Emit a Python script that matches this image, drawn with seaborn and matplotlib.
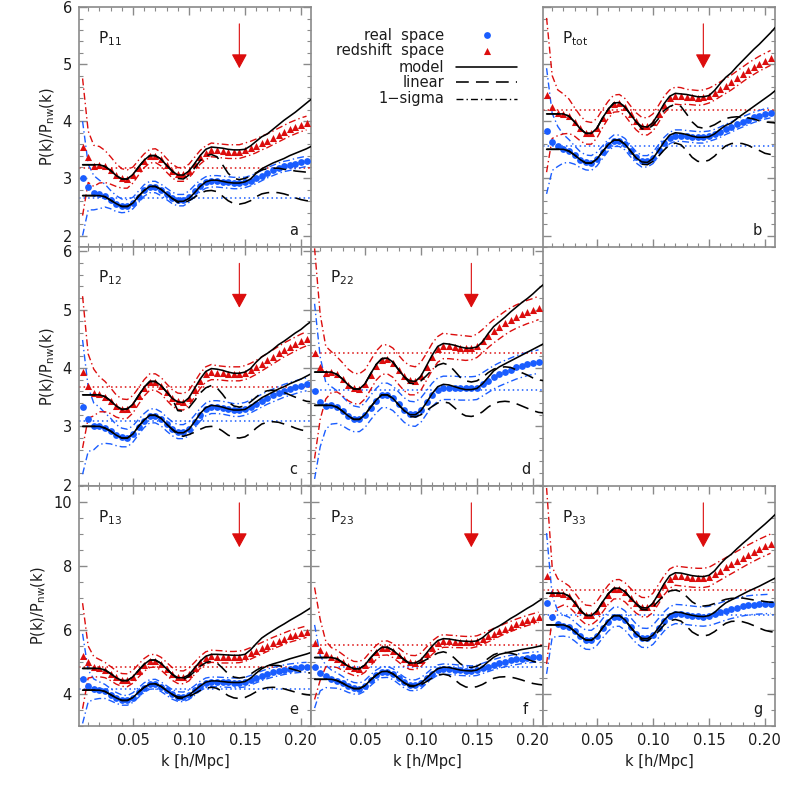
import numpy as np
import matplotlib
matplotlib.use("Agg")
import matplotlib.pyplot as plt
import matplotlib.transforms as mtransforms
from matplotlib.ticker import MultipleLocator, FormatStrFormatter
import seaborn as sns

# ---------------- data ----------------
k_dat = [0.005, 0.010, 0.015, 0.020, 0.025, 0.030, 0.035, 0.040, 0.045, 0.050,
         0.055, 0.060, 0.065, 0.070, 0.075, 0.080, 0.085, 0.090, 0.095, 0.100,
         0.105, 0.110, 0.115, 0.120, 0.125, 0.130, 0.135, 0.140, 0.145, 0.150,
         0.155, 0.160, 0.165, 0.170, 0.175, 0.180, 0.185, 0.190, 0.195, 0.200,
         0.205]
k_line = [0.005, 0.010, 0.015, 0.020, 0.025, 0.030, 0.035, 0.040, 0.045, 0.050,
          0.055, 0.060, 0.065, 0.070, 0.075, 0.080, 0.085, 0.090, 0.095, 0.100,
          0.105, 0.110, 0.115, 0.120, 0.125, 0.130, 0.135, 0.140, 0.145, 0.150,
          0.155, 0.160, 0.165, 0.170, 0.175, 0.180, 0.185, 0.190, 0.195, 0.200,
          0.205, 0.210]
k_arrow = 0.145

# ---- panel a : P11
a_real_dat = [3.00, 2.85, 2.75, 2.72, 2.70, 2.63, 2.56, 2.52, 2.52, 2.57,
              2.68, 2.79, 2.85, 2.85, 2.80, 2.73, 2.66, 2.62, 2.62, 2.68,
              2.78, 2.87, 2.93, 2.95, 2.95, 2.94, 2.93, 2.92, 2.92, 2.93,
              2.96, 3.00, 3.05, 3.10, 3.14, 3.18, 3.21, 3.23, 3.26, 3.28,
              3.30]
a_real_err = [1.00, 0.40, 0.30, 0.25, 0.20, 0.16, 0.14, 0.12, 0.11, 0.10,
              0.10, 0.10, 0.10, 0.10, 0.10, 0.10, 0.10, 0.10, 0.10, 0.10,
              0.10, 0.10, 0.10, 0.10, 0.10, 0.10, 0.10, 0.10, 0.10, 0.09,
              0.09, 0.09, 0.09, 0.09, 0.09, 0.09, 0.09, 0.09, 0.09, 0.09,
              0.09]
a_red_dat = [3.55, 3.38, 3.22, 3.24, 3.21, 3.14, 3.06, 3.00, 2.99, 3.06,
             3.19, 3.31, 3.39, 3.40, 3.34, 3.23, 3.13, 3.07, 3.07, 3.13,
             3.25, 3.37, 3.45, 3.50, 3.49, 3.48, 3.47, 3.47, 3.47, 3.50,
             3.53, 3.57, 3.62, 3.66, 3.71, 3.76, 3.81, 3.86, 3.90, 3.94,
             3.97]
a_red_err = [1.20, 0.45, 0.36, 0.32, 0.28, 0.24, 0.20, 0.17, 0.16, 0.14,
             0.13, 0.12, 0.12, 0.12, 0.12, 0.12, 0.12, 0.12, 0.12, 0.12,
             0.12, 0.12, 0.12, 0.12, 0.12, 0.12, 0.12, 0.12, 0.12, 0.12,
             0.12, 0.12, 0.12, 0.12, 0.12, 0.12, 0.12, 0.12, 0.12, 0.12,
             0.12]
a_real_mod = [2.70, 2.70, 2.70, 2.70, 2.68, 2.62, 2.56, 2.51, 2.51, 2.57,
              2.69, 2.79, 2.86, 2.86, 2.81, 2.73, 2.65, 2.60, 2.60, 2.65,
              2.75, 2.86, 2.94, 2.97, 2.97, 2.95, 2.93, 2.92, 2.92, 2.94,
              2.99, 3.09, 3.17, 3.22, 3.27, 3.31, 3.35, 3.40, 3.44, 3.48,
              3.52, 3.57]
a_red_mod = [3.24, 3.24, 3.24, 3.24, 3.21, 3.14, 3.05, 2.99, 2.99, 3.07,
             3.20, 3.32, 3.40, 3.40, 3.34, 3.23, 3.13, 3.06, 3.06, 3.13,
             3.26, 3.40, 3.51, 3.55, 3.54, 3.53, 3.51, 3.50, 3.50, 3.51,
             3.57, 3.65, 3.73, 3.78, 3.86, 3.94, 4.02, 4.09, 4.16, 4.24,
             4.32, 4.40]
a_real_lin = [2.58, 2.57, 2.61, 2.67, 2.74, 2.78, 2.79, 2.77, 2.69, 2.61,
              2.56, 2.55, 2.57, 2.61, 2.68, 2.73, 2.75, 2.76, 2.75, 2.73,
              2.70, 2.66, 2.63, 2.61, 2.60]
a_red_lin = [3.00, 2.99, 3.06, 3.18, 3.31, 3.40, 3.42, 3.38, 3.24, 3.09,
             3.00, 2.98, 3.00, 3.04, 3.10, 3.15, 3.17, 3.18, 3.18, 3.16,
             3.15, 3.13, 3.12, 3.11, 3.10]

# ---- panel b : Ptot
b_real_dat = [3.83, 3.64, 3.56, 3.52, 3.48, 3.41, 3.33, 3.28, 3.27, 3.34,
              3.46, 3.58, 3.66, 3.66, 3.60, 3.48, 3.37, 3.30, 3.30, 3.36,
              3.49, 3.62, 3.71, 3.75, 3.75, 3.74, 3.73, 3.72, 3.72, 3.74,
              3.77, 3.81, 3.86, 3.90, 3.95, 3.99, 4.03, 4.07, 4.10, 4.13,
              4.15]
b_real_err = [1.10, 0.50, 0.35, 0.25, 0.20, 0.16, 0.14, 0.13, 0.13, 0.12,
              0.11, 0.10, 0.10, 0.10, 0.10, 0.10, 0.10, 0.10, 0.10, 0.10,
              0.10, 0.10, 0.10, 0.10, 0.10, 0.10, 0.10, 0.10, 0.10, 0.09,
              0.09, 0.09, 0.09, 0.09, 0.09, 0.09, 0.09, 0.09, 0.09, 0.09,
              0.09]
b_red_dat = [4.46, 4.25, 4.15, 4.13, 4.09, 3.99, 3.88, 3.80, 3.79, 3.88,
             4.05, 4.20, 4.31, 4.32, 4.25, 4.12, 4.00, 3.92, 3.91, 3.98,
             4.13, 4.29, 4.40, 4.45, 4.44, 4.43, 4.42, 4.41, 4.42, 4.45,
             4.50, 4.56, 4.62, 4.68, 4.75, 4.82, 4.89, 4.95, 5.01, 5.06,
             5.11]
b_red_err = [1.35, 0.55, 0.40, 0.35, 0.30, 0.25, 0.22, 0.20, 0.19, 0.17,
             0.16, 0.15, 0.15, 0.15, 0.15, 0.15, 0.15, 0.15, 0.15, 0.15,
             0.15, 0.15, 0.15, 0.15, 0.15, 0.13, 0.13, 0.13, 0.13, 0.13,
             0.13, 0.13, 0.13, 0.13, 0.13, 0.13, 0.13, 0.13, 0.13, 0.13,
             0.13]
b_real_mod = [3.51, 3.51, 3.51, 3.51, 3.48, 3.41, 3.33, 3.27, 3.27, 3.34,
              3.47, 3.59, 3.67, 3.67, 3.60, 3.48, 3.36, 3.29, 3.28, 3.35,
              3.49, 3.64, 3.76, 3.80, 3.79, 3.77, 3.74, 3.72, 3.72, 3.73,
              3.78, 3.86, 3.93, 3.97, 4.05, 4.12, 4.19, 4.26, 4.33, 4.40,
              4.47, 4.55]
b_red_mod = [4.13, 4.13, 4.13, 4.13, 4.09, 3.99, 3.87, 3.79, 3.79, 3.88,
             4.06, 4.21, 4.32, 4.33, 4.25, 4.12, 3.99, 3.91, 3.90, 3.98,
             4.14, 4.31, 4.44, 4.49, 4.48, 4.47, 4.45, 4.43, 4.43, 4.45,
             4.54, 4.66, 4.77, 4.85, 4.96, 5.06, 5.16, 5.26, 5.35, 5.45,
             5.55, 5.66]
b_real_lin = [3.25, 3.24, 3.30, 3.39, 3.50, 3.59, 3.62, 3.59, 3.49, 3.37,
              3.30, 3.29, 3.32, 3.39, 3.49, 3.57, 3.61, 3.62, 3.61, 3.58,
              3.53, 3.49, 3.44, 3.42, 3.40]
b_red_lin = [3.87, 3.86, 3.93, 4.05, 4.19, 4.26, 4.30, 4.26, 4.13, 3.99,
             3.90, 3.88, 3.90, 3.94, 4.00, 4.05, 4.07, 4.08, 4.07, 4.06,
             4.04, 4.01, 3.99, 3.98, 3.97]

# ---- panel c : P12
c_real_dat = [3.33, 3.12, 3.00, 3.01, 2.97, 2.92, 2.85, 2.81, 2.80, 2.87,
              2.99, 3.10, 3.18, 3.18, 3.13, 3.04, 2.96, 2.91, 2.91, 2.96,
              3.08, 3.20, 3.29, 3.33, 3.33, 3.32, 3.30, 3.28, 3.28, 3.30,
              3.34, 3.39, 3.44, 3.49, 3.53, 3.57, 3.61, 3.64, 3.67, 3.70,
              3.72]
c_real_err = [1.15, 0.55, 0.40, 0.32, 0.26, 0.22, 0.18, 0.16, 0.15, 0.14,
              0.13, 0.12, 0.12, 0.12, 0.12, 0.12, 0.12, 0.12, 0.12, 0.12,
              0.11, 0.11, 0.11, 0.11, 0.11, 0.11, 0.11, 0.11, 0.11, 0.11,
              0.11, 0.11, 0.11, 0.11, 0.11, 0.11, 0.11, 0.11, 0.11, 0.11,
              0.11]
c_red_dat = [3.93, 3.69, 3.58, 3.55, 3.51, 3.44, 3.35, 3.30, 3.30, 3.38,
             3.52, 3.66, 3.76, 3.76, 3.70, 3.59, 3.49, 3.43, 3.42, 3.49,
             3.63, 3.78, 3.89, 3.93, 3.92, 3.91, 3.90, 3.90, 3.90, 3.92,
             3.96, 4.01, 4.07, 4.13, 4.19, 4.25, 4.31, 4.36, 4.41, 4.46,
             4.50]
c_red_err = [1.30, 0.55, 0.40, 0.30, 0.26, 0.22, 0.19, 0.17, 0.16, 0.15,
             0.14, 0.14, 0.14, 0.14, 0.14, 0.14, 0.14, 0.14, 0.14, 0.13,
             0.13, 0.13, 0.13, 0.13, 0.12, 0.12, 0.12, 0.12, 0.12, 0.12,
             0.12, 0.12, 0.12, 0.12, 0.12, 0.12, 0.12, 0.12, 0.12, 0.12,
             0.12]
c_real_mod = [3.00, 3.00, 3.00, 3.00, 2.97, 2.92, 2.85, 2.80, 2.80, 2.87,
              3.00, 3.11, 3.19, 3.19, 3.14, 3.04, 2.95, 2.89, 2.89, 2.95,
              3.08, 3.22, 3.32, 3.36, 3.35, 3.33, 3.30, 3.28, 3.28, 3.29,
              3.35, 3.42, 3.49, 3.54, 3.59, 3.64, 3.68, 3.73, 3.77, 3.81,
              3.86, 3.91]
c_red_mod = [3.54, 3.54, 3.54, 3.54, 3.51, 3.44, 3.35, 3.29, 3.30, 3.38,
             3.53, 3.67, 3.77, 3.77, 3.70, 3.59, 3.48, 3.42, 3.41, 3.49,
             3.65, 3.81, 3.94, 3.99, 3.98, 3.96, 3.93, 3.91, 3.91, 3.93,
             3.99, 4.10, 4.19, 4.25, 4.32, 4.40, 4.46, 4.53, 4.60, 4.66,
             4.74, 4.81]
c_real_lin = [2.85, 2.83, 2.86, 2.90, 2.95, 2.99, 3.00, 2.98, 2.92, 2.85,
              2.81, 2.80, 2.82, 2.88, 2.97, 3.04, 3.07, 3.08, 3.07, 3.04,
              3.01, 2.97, 2.94, 2.92, 2.90]
c_red_lin = [3.27, 3.26, 3.32, 3.44, 3.57, 3.66, 3.70, 3.66, 3.55, 3.42,
             3.35, 3.33, 3.35, 3.42, 3.50, 3.58, 3.61, 3.62, 3.61, 3.58,
             3.54, 3.50, 3.46, 3.43, 3.42]

# ---- panel d : P22
d_real_dat = [3.60, 3.42, 3.35, 3.36, 3.33, 3.26, 3.18, 3.13, 3.12, 3.19,
              3.32, 3.44, 3.53, 3.53, 3.48, 3.38, 3.28, 3.22, 3.21, 3.28,
              3.41, 3.54, 3.63, 3.66, 3.66, 3.66, 3.65, 3.65, 3.65, 3.66,
              3.72, 3.78, 3.84, 3.89, 3.93, 3.97, 4.01, 4.04, 4.07, 4.09,
              4.11]
d_real_err = [1.50, 0.77, 0.40, 0.32, 0.28, 0.25, 0.23, 0.22, 0.21, 0.21,
              0.21, 0.21, 0.21, 0.21, 0.21, 0.21, 0.21, 0.21, 0.21, 0.21,
              0.20, 0.20, 0.20, 0.20, 0.20, 0.20, 0.20, 0.20, 0.20, 0.20,
              0.20, 0.20, 0.20, 0.20, 0.20, 0.20, 0.20, 0.20, 0.20, 0.20,
              0.20]
d_red_dat = [4.25, 4.02, 3.92, 3.93, 3.89, 3.81, 3.71, 3.65, 3.64, 3.72,
             3.88, 4.04, 4.14, 4.15, 4.09, 3.97, 3.86, 3.79, 3.78, 3.86,
             4.02, 4.19, 4.32, 4.38, 4.37, 4.36, 4.35, 4.34, 4.34, 4.38,
             4.46, 4.55, 4.63, 4.70, 4.77, 4.83, 4.88, 4.92, 4.96, 4.99,
             5.03]
d_red_err = [1.80, 0.90, 0.45, 0.35, 0.30, 0.28, 0.27, 0.26, 0.26, 0.25,
             0.25, 0.25, 0.25, 0.25, 0.25, 0.25, 0.25, 0.25, 0.24, 0.24,
             0.23, 0.23, 0.22, 0.22, 0.21, 0.21, 0.21, 0.21, 0.20, 0.20,
             0.20, 0.20, 0.20, 0.20, 0.20, 0.20, 0.20, 0.20, 0.20, 0.20,
             0.20]
d_real_mod = [3.36, 3.36, 3.36, 3.36, 3.33, 3.26, 3.18, 3.12, 3.12, 3.20,
              3.33, 3.45, 3.54, 3.54, 3.48, 3.37, 3.27, 3.20, 3.20, 3.27,
              3.41, 3.56, 3.68, 3.72, 3.71, 3.68, 3.65, 3.63, 3.63, 3.65,
              3.73, 3.84, 3.95, 4.02, 4.07, 4.12, 4.17, 4.22, 4.27, 4.32,
              4.37, 4.42]
d_red_mod = [3.93, 3.93, 3.93, 3.93, 3.89, 3.81, 3.71, 3.64, 3.64, 3.73,
             3.90, 4.06, 4.16, 4.17, 4.10, 3.97, 3.85, 3.78, 3.77, 3.86,
             4.04, 4.22, 4.37, 4.42, 4.41, 4.39, 4.36, 4.34, 4.34, 4.36,
             4.45, 4.59, 4.71, 4.79, 4.87, 4.96, 5.04, 5.12, 5.19, 5.27,
             5.36, 5.44]
d_real_lin = [3.17, 3.16, 3.20, 3.27, 3.34, 3.40, 3.42, 3.40, 3.32, 3.23,
              3.18, 3.17, 3.19, 3.25, 3.33, 3.39, 3.42, 3.43, 3.42, 3.39,
              3.35, 3.31, 3.27, 3.24, 3.23]
d_red_lin = [3.74, 3.73, 3.78, 3.87, 3.97, 4.05, 4.08, 4.05, 3.95, 3.84,
             3.78, 3.76, 3.78, 3.84, 3.92, 3.98, 4.01, 4.02, 4.01, 3.97,
             3.92, 3.88, 3.83, 3.80, 3.78]

# ---- panel e : P13
e_real_dat = [4.48, 4.25, 4.15, 4.12, 4.08, 3.98, 3.88, 3.81, 3.80, 3.89,
              4.05, 4.20, 4.30, 4.31, 4.23, 4.11, 3.99, 3.92, 3.91, 3.98,
              4.11, 4.25, 4.35, 4.38, 4.38, 4.37, 4.36, 4.35, 4.35, 4.37,
              4.43, 4.50, 4.57, 4.63, 4.68, 4.72, 4.76, 4.79, 4.81, 4.83,
              4.84]
e_real_err = [1.40, 0.50, 0.32, 0.26, 0.22, 0.19, 0.17, 0.16, 0.15, 0.15,
              0.15, 0.15, 0.15, 0.15, 0.15, 0.15, 0.15, 0.15, 0.15, 0.15,
              0.15, 0.15, 0.15, 0.15, 0.15, 0.15, 0.15, 0.15, 0.15, 0.15,
              0.15, 0.15, 0.15, 0.15, 0.15, 0.15, 0.15, 0.15, 0.15, 0.15,
              0.15]
e_red_dat = [5.19, 5.00, 4.85, 4.81, 4.75, 4.64, 4.52, 4.44, 4.43, 4.54,
             4.73, 4.91, 5.03, 5.04, 4.95, 4.79, 4.63, 4.53, 4.52, 4.61,
             4.80, 4.99, 5.13, 5.18, 5.17, 5.16, 5.15, 5.15, 5.16, 5.20,
             5.27, 5.35, 5.43, 5.51, 5.59, 5.66, 5.73, 5.80, 5.85, 5.90,
             5.95]
e_red_err = [1.65, 0.50, 0.32, 0.27, 0.24, 0.22, 0.21, 0.20, 0.20, 0.20,
             0.20, 0.20, 0.20, 0.20, 0.20, 0.20, 0.20, 0.20, 0.20, 0.20,
             0.19, 0.19, 0.19, 0.19, 0.19, 0.19, 0.18, 0.18, 0.18, 0.18,
             0.18, 0.18, 0.18, 0.18, 0.18, 0.18, 0.18, 0.18, 0.18, 0.18,
             0.18]
e_real_mod = [4.12, 4.12, 4.12, 4.12, 4.08, 3.98, 3.88, 3.80, 3.80, 3.89,
              4.06, 4.21, 4.31, 4.32, 4.24, 4.11, 3.99, 3.91, 3.90, 3.97,
              4.11, 4.25, 4.37, 4.41, 4.41, 4.39, 4.37, 4.36, 4.36, 4.39,
              4.49, 4.65, 4.79, 4.88, 4.94, 4.99, 5.04, 5.10, 5.15, 5.20,
              5.25, 5.31]
e_red_mod = [4.80, 4.80, 4.80, 4.80, 4.75, 4.64, 4.51, 4.42, 4.42, 4.54,
             4.74, 4.93, 5.06, 5.06, 4.96, 4.79, 4.62, 4.51, 4.51, 4.60,
             4.81, 5.02, 5.18, 5.24, 5.24, 5.23, 5.22, 5.21, 5.21, 5.24,
             5.38, 5.57, 5.75, 5.87, 5.98, 6.09, 6.19, 6.30, 6.40, 6.50,
             6.61, 6.72]
e_real_lin = [3.87, 3.86, 3.92, 4.01, 4.11, 4.18, 4.21, 4.18, 4.07, 3.95,
              3.88, 3.86, 3.89, 3.97, 4.07, 4.16, 4.20, 4.21, 4.20, 4.16,
              4.11, 4.06, 4.01, 3.98, 3.96]
e_red_lin = [4.47, 4.46, 4.55, 4.70, 4.87, 4.98, 5.02, 4.97, 4.81, 4.63,
             4.53, 4.50, 4.53, 4.62, 4.74, 4.84, 4.89, 4.90, 4.89, 4.85,
             4.80, 4.75, 4.70, 4.67, 4.65]

# ---- panel f : P23
f_real_dat = [4.86, 4.65, 4.55, 4.47, 4.42, 4.34, 4.24, 4.18, 4.17, 4.26,
              4.43, 4.58, 4.68, 4.69, 4.62, 4.49, 4.36, 4.28, 4.27, 4.34,
              4.49, 4.64, 4.75, 4.78, 4.77, 4.76, 4.74, 4.73, 4.72, 4.74,
              4.80, 4.86, 4.92, 4.97, 5.01, 5.05, 5.08, 5.11, 5.13, 5.15,
              5.16]
f_real_err = [1.30, 0.55, 0.35, 0.28, 0.24, 0.21, 0.19, 0.18, 0.17, 0.17,
              0.17, 0.17, 0.17, 0.17, 0.17, 0.17, 0.17, 0.17, 0.17, 0.17,
              0.16, 0.16, 0.16, 0.16, 0.16, 0.16, 0.16, 0.16, 0.16, 0.16,
              0.16, 0.16, 0.16, 0.16, 0.16, 0.16, 0.16, 0.16, 0.16, 0.16,
              0.16]
f_red_dat = [5.58, 5.38, 5.25, 5.15, 5.10, 4.99, 4.88, 4.80, 4.79, 4.90,
             5.11, 5.30, 5.43, 5.44, 5.36, 5.22, 5.08, 4.99, 4.98, 5.07,
             5.26, 5.45, 5.59, 5.66, 5.65, 5.64, 5.63, 5.62, 5.62, 5.65,
             5.72, 5.80, 5.88, 5.96, 6.04, 6.11, 6.18, 6.24, 6.30, 6.35,
             6.40]
f_red_err = [1.75, 0.95, 0.40, 0.30, 0.27, 0.25, 0.23, 0.22, 0.22, 0.22,
             0.22, 0.22, 0.22, 0.22, 0.22, 0.22, 0.22, 0.22, 0.22, 0.21,
             0.21, 0.21, 0.20, 0.20, 0.19, 0.19, 0.18, 0.18, 0.18, 0.17,
             0.17, 0.17, 0.17, 0.16, 0.16, 0.16, 0.16, 0.16, 0.16, 0.16,
             0.16]
f_real_mod = [4.46, 4.46, 4.46, 4.46, 4.42, 4.34, 4.24, 4.17, 4.17, 4.26,
              4.44, 4.59, 4.70, 4.71, 4.63, 4.49, 4.35, 4.27, 4.26, 4.34,
              4.50, 4.66, 4.79, 4.84, 4.83, 4.79, 4.75, 4.73, 4.72, 4.75,
              4.85, 5.01, 5.15, 5.24, 5.28, 5.32, 5.35, 5.39, 5.42, 5.45,
              5.49, 5.53]
f_red_mod = [5.14, 5.14, 5.14, 5.14, 5.10, 4.99, 4.87, 4.79, 4.79, 4.91,
             5.13, 5.32, 5.46, 5.46, 5.37, 5.22, 5.07, 4.97, 4.97, 5.07,
             5.28, 5.50, 5.67, 5.73, 5.72, 5.69, 5.66, 5.65, 5.64, 5.66,
             5.76, 5.91, 6.04, 6.13, 6.24, 6.36, 6.46, 6.57, 6.68, 6.78,
             6.90, 7.01]
f_real_lin = [4.24, 4.23, 4.29, 4.39, 4.50, 4.59, 4.62, 4.58, 4.45, 4.31,
              4.22, 4.20, 4.23, 4.30, 4.40, 4.49, 4.53, 4.54, 4.53, 4.49,
              4.44, 4.38, 4.33, 4.30, 4.28]
f_red_lin = [4.94, 4.93, 4.99, 5.08, 5.19, 5.28, 5.32, 5.27, 5.12, 4.95,
             4.85, 4.83, 4.87, 4.97, 5.11, 5.23, 5.29, 5.30, 5.28, 5.23,
             5.16, 5.09, 5.02, 4.98, 4.95]

# ---- panel g : P33
g_real_dat = [6.83, 6.42, 6.20, 6.14, 6.09, 5.96, 5.81, 5.70, 5.69, 5.82,
              6.05, 6.26, 6.41, 6.42, 6.30, 6.09, 5.89, 5.76, 5.75, 5.85,
              6.06, 6.27, 6.43, 6.50, 6.49, 6.47, 6.45, 6.43, 6.42, 6.44,
              6.49, 6.55, 6.61, 6.66, 6.70, 6.74, 6.77, 6.79, 6.80, 6.81,
              6.82]
g_real_err = [2.20, 0.65, 0.40, 0.33, 0.31, 0.30, 0.30, 0.30, 0.30, 0.30,
              0.30, 0.30, 0.30, 0.30, 0.30, 0.30, 0.30, 0.30, 0.30, 0.30,
              0.30, 0.30, 0.30, 0.30, 0.30, 0.30, 0.30, 0.30, 0.30, 0.30,
              0.30, 0.30, 0.30, 0.30, 0.30, 0.30, 0.30, 0.30, 0.30, 0.30,
              0.30]
g_red_dat = [7.69, 7.17, 7.15, 7.14, 7.05, 6.86, 6.63, 6.48, 6.46, 6.60,
             6.86, 7.10, 7.27, 7.28, 7.18, 7.00, 6.83, 6.72, 6.71, 6.85,
             7.12, 7.40, 7.61, 7.70, 7.68, 7.66, 7.64, 7.63, 7.63, 7.66,
             7.76, 7.86, 7.96, 8.06, 8.16, 8.26, 8.36, 8.45, 8.54, 8.62,
             8.70]
g_red_err = [2.75, 0.80, 0.45, 0.36, 0.33, 0.31, 0.30, 0.30, 0.30, 0.30,
             0.30, 0.30, 0.30, 0.30, 0.30, 0.30, 0.30, 0.30, 0.30, 0.30,
             0.30, 0.30, 0.30, 0.30, 0.30, 0.30, 0.30, 0.30, 0.30, 0.30,
             0.30, 0.30, 0.30, 0.30, 0.30, 0.30, 0.30, 0.30, 0.30, 0.30,
             0.30]
g_real_mod = [6.16, 6.16, 6.16, 6.16, 6.10, 5.96, 5.80, 5.69, 5.68, 5.82,
              6.07, 6.29, 6.45, 6.45, 6.32, 6.09, 5.88, 5.74, 5.73, 5.84,
              6.07, 6.31, 6.49, 6.56, 6.55, 6.50, 6.46, 6.43, 6.42, 6.45,
              6.55, 6.71, 6.85, 6.94, 7.03, 7.12, 7.21, 7.29, 7.37, 7.46,
              7.55, 7.64]
g_red_mod = [7.15, 7.15, 7.15, 7.15, 7.06, 6.86, 6.62, 6.46, 6.45, 6.60,
             6.88, 7.13, 7.30, 7.31, 7.20, 7.00, 6.82, 6.70, 6.69, 6.84,
             7.14, 7.45, 7.70, 7.79, 7.78, 7.74, 7.70, 7.68, 7.67, 7.71,
             7.85, 8.06, 8.24, 8.37, 8.54, 8.70, 8.85, 9.01, 9.16, 9.31,
             9.47, 9.64]
g_real_lin = [5.69, 5.67, 5.78, 5.96, 6.16, 6.29, 6.33, 6.28, 6.12, 5.94,
              5.84, 5.81, 5.85, 5.95, 6.09, 6.21, 6.27, 6.28, 6.26, 6.21,
              6.14, 6.06, 5.99, 5.95, 5.92]
g_red_lin = [6.64, 6.63, 6.72, 6.91, 7.10, 7.22, 7.25, 7.20, 7.05, 6.88,
             6.78, 6.75, 6.77, 6.83, 6.90, 6.96, 6.99, 7.00, 7.00, 6.97,
             6.94, 6.92, 6.89, 6.87, 6.86]

# horizontal (dotted) reference levels per panel a..g
base_real = [2.66, 3.57, 3.09, 3.62, 4.17, 4.86, 6.46]
base_red = [3.19, 4.19, 3.67, 4.25, 4.83, 5.53, 7.24]

panel_names = ["a", "b", "c", "d", "e", "f", "g"]
panel_titles = ["11", "tot", "12", "22", "13", "23", "33"]
legend_labels = ["real  space", "redshift  space", "model", "linear", "1\u2212sigma"]

# ---------------- style ----------------
sns.set_style("ticks")
plt.rcParams["font.family"] = ["DejaVu Sans"]
plt.rcParams["mathtext.fontset"] = "dejavusans"

BLUE = "#1a5dff"
RED = "#dc0d0d"
FRAME = "#8a8a8a"
TXT = "#1c1c1c"
DASHDOT = (0, (5.0, 2.2, 1.0, 2.2))
LONGDASH = (0, (8.0, 4.5))
DOTTED = (0, (1.0, 2.0))
FS = 10.5

fig = plt.figure(figsize=(7.9, 7.9), dpi=100)
col_left = [0.1, 0.39367, 0.68734]
row_bottom = [0.68734, 0.38418, 0.08101]
W, H = 0.29367, 0.3037

layout = [(0, 0), (0, 2), (1, 0), (1, 1), (2, 0), (2, 1), (2, 2)]
ylims = {0: (1.8, 6.0), 1: (1.97, 6.08), 2: (3.0, 10.5)}

panels = []
src = [
    (a_real_dat, a_real_err, a_red_dat, a_red_err, a_real_mod, a_red_mod, a_real_lin, a_red_lin),
    (b_real_dat, b_real_err, b_red_dat, b_red_err, b_real_mod, b_red_mod, b_real_lin, b_red_lin),
    (c_real_dat, c_real_err, c_red_dat, c_red_err, c_real_mod, c_red_mod, c_real_lin, c_red_lin),
    (d_real_dat, d_real_err, d_red_dat, d_red_err, d_real_mod, d_red_mod, d_real_lin, d_red_lin),
    (e_real_dat, e_real_err, e_red_dat, e_red_err, e_real_mod, e_red_mod, e_real_lin, e_red_lin),
    (f_real_dat, f_real_err, f_red_dat, f_red_err, f_real_mod, f_red_mod, f_real_lin, f_red_lin),
    (g_real_dat, g_real_err, g_red_dat, g_red_err, g_real_mod, g_red_mod, g_real_lin, g_red_lin),
]

kd = np.array(k_dat)
kl = np.array(k_line)

for i, (row, col) in enumerate(layout):
    rd, re, zd, ze, rm, zm, rl, zl = [np.array(v) for v in src[i]]
    ax = fig.add_axes([col_left[col], row_bottom[row], W, H])

    for dat, err, base, col_c, mk, ms in [(rd, re, base_real[i], BLUE, "o", 24),
                                          (zd, ze, base_red[i], RED, "^", 26)]:
        ax.axhline(base, color=col_c, lw=1.1, ls=DOTTED, zorder=1)
        sns.lineplot(x=kd, y=dat + err, ax=ax, color=col_c, lw=1.0,
                     linestyle=DASHDOT, estimator=None, sort=False, zorder=2)
        sns.lineplot(x=kd, y=dat - err, ax=ax, color=col_c, lw=1.0,
                     linestyle=DASHDOT, estimator=None, sort=False, zorder=2)
        sns.scatterplot(x=kd, y=dat, ax=ax, color=col_c, marker=mk, s=ms,
                        linewidth=0, zorder=3)

    for mod, lin in [(rm, rl), (zm, zl)]:
        sns.lineplot(x=kl, y=mod, ax=ax, color="black", lw=1.15,
                     estimator=None, sort=False, zorder=4)
        sns.lineplot(x=kl, y=np.r_[mod[:17], lin], ax=ax, color="black",
                     lw=1.15, linestyle=LONGDASH, estimator=None, sort=False,
                     zorder=4)

    ax.set_xlim(0.0018, 0.209)
    ax.set_ylim(*ylims[row])
    ax.xaxis.set_major_locator(MultipleLocator(0.05))
    ax.xaxis.set_minor_locator(MultipleLocator(0.01))
    ax.xaxis.set_major_formatter(FormatStrFormatter("%.2f"))
    if row == 2:
        ax.yaxis.set_major_locator(MultipleLocator(2))
        ax.yaxis.set_minor_locator(MultipleLocator(0.5))
    else:
        ax.yaxis.set_major_locator(MultipleLocator(1))
        ax.yaxis.set_minor_locator(MultipleLocator(0.2))
    ax.yaxis.set_major_formatter(FormatStrFormatter("%d"))

    for sp in ax.spines.values():
        sp.set_visible(True)
        sp.set_color(FRAME)
        sp.set_linewidth(1.2)
    ax.tick_params(which="both", direction="in", top=True, right=True,
                   color=FRAME, labelcolor=TXT, labelsize=FS,
                   labelbottom=(row == 2), labelleft=(col == 0))
    ax.tick_params(which="major", length=6, width=1.0, pad=5)
    ax.tick_params(which="minor", length=3, width=0.8)

    ax.set_xlabel("k [h/Mpc]" if row == 2 else "", fontsize=FS, color=TXT)
    ax.set_ylabel(r"P(k)/P$_{\rm nw}$(k)" if col == 0 else "", fontsize=FS,
                  color=TXT)

    ax.text(0.08, 0.87, r"P$_{\rm %s}$" % panel_titles[i], transform=ax.transAxes,
            fontsize=FS + 0.5, color=TXT, ha="left", va="center")
    ax.text(0.925, 0.07, panel_names[i], transform=ax.transAxes, fontsize=FS,
            color=TXT, ha="center", va="center")

    trans = mtransforms.blended_transform_factory(ax.transData, ax.transAxes)
    ax.annotate("", xy=(k_arrow, 0.745), xycoords=trans,
                xytext=(k_arrow, 0.93), textcoords=trans,
                arrowprops=dict(arrowstyle="-|>,head_length=0.55,head_width=0.3",
                                color=RED, lw=0.8, mutation_scale=16,
                                shrinkA=0, shrinkB=0))

# ---------------- legend panel (top middle) ----------------
axl = fig.add_axes([col_left[1], row_bottom[0], W, H])
axl.set_axis_off()
axl.set_xlim(0, 1)
axl.set_ylim(0, 1)
ys = [0.883, 0.817, 0.75, 0.6875, 0.617]
for lab, y in zip(legend_labels, ys):
    axl.text(0.573, y, lab, ha="right", va="center", fontsize=FS, color=TXT)
axl.scatter([0.759], [ys[0]], marker="o", s=24, color=BLUE, linewidths=0)
axl.scatter([0.759], [ys[1]], marker="^", s=26, color=RED, linewidths=0)
axl.plot([0.625, 0.888], [ys[2], ys[2]], color="black", lw=1.15)
axl.plot([0.625, 0.888], [ys[3], ys[3]], color="black", lw=1.15, ls=LONGDASH)
axl.plot([0.625, 0.888], [ys[4], ys[4]], color="black", lw=1.0, ls=DASHDOT)

fig.savefig("out.png", dpi=100)
